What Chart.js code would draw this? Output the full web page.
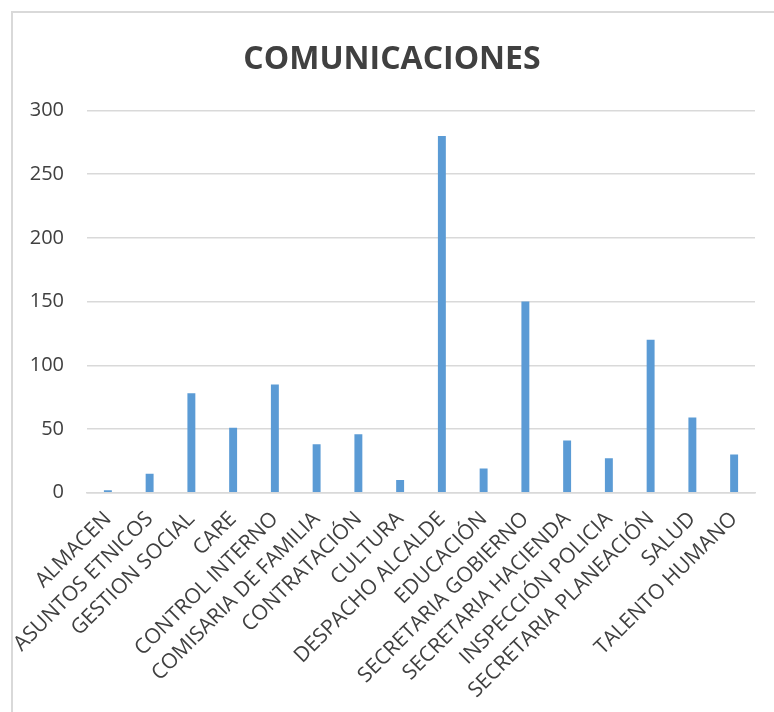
<!DOCTYPE html>
<html>
<head>
<meta charset="utf-8">
<script src="https://cdn.jsdelivr.net/npm/chart.js@4"></script>
<style>
  body { margin: 0; background: #fff; overflow: hidden; }
  #wrap { position: relative; width: 774px; height: 712px; }
  #frame { position: absolute; left: 11px; top: 11px; width: 900px; height: 900px;
           border-left: 2px solid #d9d9d9; border-top: 2px solid #d9d9d9; }
  canvas { position: absolute; left: 0; top: 0; }
</style>
</head>
<body>
<div id="wrap">
  <div id="frame"></div>
  <canvas id="grafica" width="774" height="712"></canvas>
</div>
<script>
const titulo = 'COMUNICACIONES';
const dependencias = [
  'ALMACEN', 'ASUNTOS ETNICOS', 'GESTION SOCIAL', 'CARE', 'CONTROL INTERNO',
  'COMISARIA DE FAMILIA', 'CONTRATACIÓN', 'CULTURA', 'DESPACHO ALCALDE',
  'EDUCACIÓN', 'SECRETARIA GOBIERNO', 'SECRETARIA HACIENDA', 'INSPECCIÓN POLICIA',
  'SECRETARIA PLANEACIÓN', 'SALUD', 'TALENTO HUMANO'
];
const valores = [2, 15, 78, 51, 85, 38, 46, 10, 280, 19, 150, 41, 27, 120, 59, 30];
const ejeY = { min: 0, max: 300, paso: 50 };

const ctx = document.getElementById('grafica').getContext('2d');
const grafica = new Chart(ctx, {
  type: 'bar',
  data: {
    labels: dependencias,
    datasets: [
      {
        label: titulo,
        data: valores,
        backgroundColor: '#5b9bd5',
        borderWidth: 0,
        barPercentage: 0.19,
        categoryPercentage: 1
      }
    ]
  },
  options: {
    responsive: false,
    animation: false,
    layout: { padding: { left: 29, right: 19, top: 14, bottom: 3 } },
    plugins: {
      legend: { display: false },
      tooltip: { enabled: false },
      title: {
        display: true,
        text: titulo,
        color: '#404040',
        font: { family: 'Open Sans', size: 32, weight: 'bold' },
        padding: { top: 27, bottom: 31 }
      }
    },
    scales: {
      x: {
        grid: { display: false },
        border: { display: true, color: '#d9d9d9', width: 1.5 },
        afterFit: (scale) => { scale.paddingLeft = 0; },
        ticks: {
          autoSkip: false,
          minRotation: 45,
          maxRotation: 45,
          padding: 6,
          color: '#404040',
          font: { family: 'Open Sans', size: 21 }
        }
      },
      y: {
        min: ejeY.min,
        max: ejeY.max,
        border: { display: false },
        afterFit: (scale) => { scale.width = 58; },
        grid: { color: '#d9d9d9', lineWidth: 1.5, drawTicks: false },
        ticks: {
          stepSize: ejeY.paso,
          padding: 23,
          color: '#404040',
          font: { family: 'Open Sans', size: 20 }
        }
      }
    }
  }
});
</script>
</body>
</html>
